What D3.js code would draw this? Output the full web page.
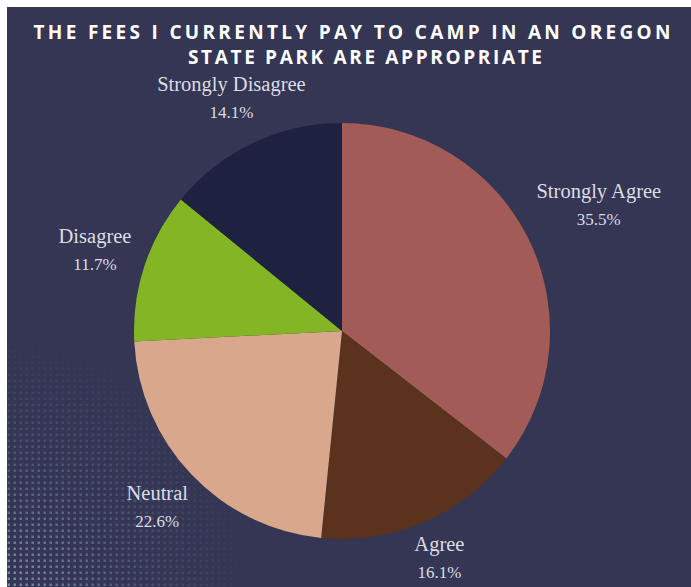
<!DOCTYPE html>
<html>
<head>
<meta charset="utf-8">
<script src="https://cdn.jsdelivr.net/npm/d3@7"></script>
<style>
  html, body { margin: 0; padding: 0; background: #ffffff; }
  svg { display: block; }
</style>
</head>
<body>
<script>
// ---- data ----
const categories = ["Strongly Agree", "Agree", "Neutral", "Disagree", "Strongly Disagree"];
const values = [35.5, 16.1, 22.6, 11.7, 14.1];
const valueLabels = ["35.5%", "16.1%", "22.6%", "11.7%", "14.1%"];
const colors = ["#a35b58", "#5b321e", "#d8a78c", "#84b524", "#1e2140"];
const titleLines = ["THE FEES I CURRENTLY PAY TO CAMP IN AN OREGON", "STATE PARK ARE APPROPRIATE"];

// ---- layout ----
const W = 691, H = 587;
const cx = 342, cy = 331, R = 208;
const labelRadius = [286, 247, 255, 260, 258];

const svg = d3.select("body").append("svg").attr("width", W).attr("height", H);
const defs = svg.append("defs");

// halftone decoration
const pat = defs.append("pattern").attr("id", "dots").attr("patternUnits", "userSpaceOnUse")
  .attr("width", 6).attr("height", 6);
pat.append("rect").attr("x", 1.5).attr("y", 1.5).attr("width", 2.5).attr("height", 2.5).attr("fill", "#86a6c8");
const rg = defs.append("radialGradient").attr("id", "fade").attr("gradientUnits", "userSpaceOnUse")
  .attr("cx", 0).attr("cy", H).attr("r", 250);
rg.append("stop").attr("offset", "0").attr("stop-color", "#fff").attr("stop-opacity", 0.8);
rg.append("stop").attr("offset", "0.5").attr("stop-color", "#fff").attr("stop-opacity", 0.3);
rg.append("stop").attr("offset", "1").attr("stop-color", "#fff").attr("stop-opacity", 0);
const mask = defs.append("mask").attr("id", "fadeMask");
mask.append("rect").attr("x", 0).attr("y", 0).attr("width", W).attr("height", H).attr("fill", "url(#fade)");

svg.append("rect").attr("x", 7).attr("y", 7).attr("width", W - 7).attr("height", H - 7).attr("fill", "#343654");
svg.append("rect").attr("x", 7).attr("y", 330).attr("width", 300).attr("height", H - 330)
  .attr("fill", "url(#dots)").attr("mask", "url(#fadeMask)");

// title
const title = svg.append("g");
title.append("text").attr("x", 352).attr("y", 39).attr("text-anchor", "middle")
  .attr("textLength", 637).attr("lengthAdjust", "spacing")
  .style("font-family", "'Open Sans', sans-serif").style("font-weight", 700).style("font-size", "19px")
  .attr("fill", "#ffffff").text(titleLines[0]);
title.append("text").attr("x", 365).attr("y", 64).attr("text-anchor", "middle")
  .attr("textLength", 354).attr("lengthAdjust", "spacing")
  .style("font-family", "'Open Sans', sans-serif").style("font-weight", 700).style("font-size", "19px")
  .attr("fill", "#ffffff").text(titleLines[1]);

// pie
const data = categories.map((c, i) => ({ cat: c, value: values[i], label: valueLabels[i], i }));
const pie = d3.pie().value(d => d.value).sort(null);
const arcs = pie(data);
const arc = d3.arc().innerRadius(0).outerRadius(R);

const g = svg.append("g").attr("transform", `translate(${cx},${cy})`);
g.selectAll("path").data(arcs).join("path")
  .attr("d", arc).attr("fill", d => colors[d.index]);

// labels
const lg = svg.append("g").attr("transform", `translate(${cx},${cy})`);
arcs.forEach((a, i) => {
  const la = d3.arc().innerRadius(labelRadius[i]).outerRadius(labelRadius[i]);
  const [x, y] = la.centroid(a);
  const t = lg.append("text").attr("text-anchor", "middle")
    .style("font-family", "'Liberation Serif', serif").style("font-size", "20.5px")
    .attr("fill", "#dcdce4");
  t.append("tspan").attr("x", x).attr("y", y - 7).text(a.data.cat);
  t.append("tspan").attr("x", x).attr("y", y + 20).style("font-size", "17px").text(a.data.label);
});
</script>
</body>
</html>
